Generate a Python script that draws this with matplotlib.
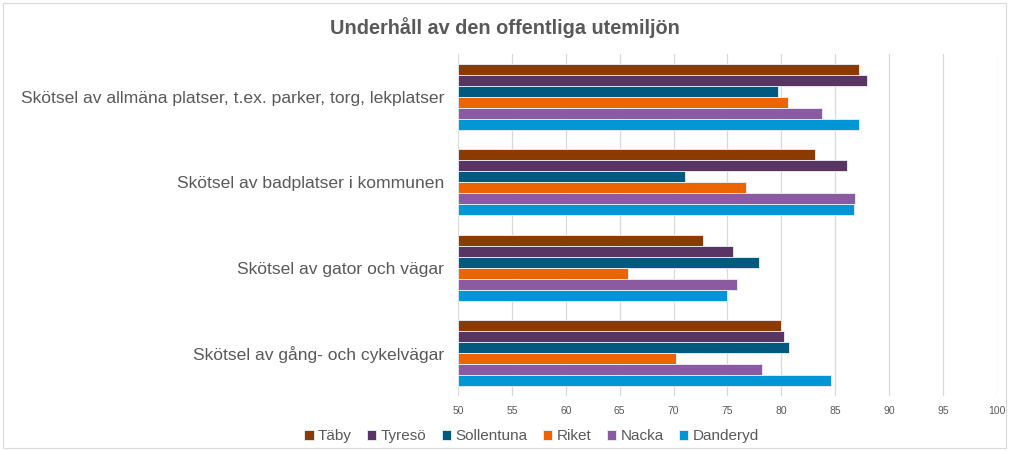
import matplotlib.pyplot as plt
from matplotlib.patches import Rectangle
import numpy as np

plt.rcParams['font.family'] = ['Liberation Sans', 'DejaVu Sans']

categories = [
    "Skötsel av allmäna platser, t.ex. parker, torg, lekplatser",
    "Skötsel av badplatser i kommunen",
    "Skötsel av gator och vägar",
    "Skötsel av gång- och cykelvägar",
]
series_names = ["Täby", "Tyresö", "Sollentuna", "Riket", "Nacka", "Danderyd"]
taby = [87.2, 83.1, 72.7, 80.0]
tyreso = [87.9, 86.1, 75.5, 80.2]
sollentuna = [79.7, 71.1, 77.9, 80.7]
riket = [80.6, 76.7, 65.8, 70.2]
nacka = [83.8, 86.8, 75.9, 78.2]
danderyd = [87.2, 86.7, 75.0, 84.6]
colors = ["#8B3A00", "#583562", "#005A80", "#EB6400", "#8C5AA0", "#0096D6"]

values = [taby, tyreso, sollentuna, riket, nacka, danderyd]

fig = plt.figure(figsize=(10.09, 4.51), dpi=100)
ax = fig.add_axes([0.4539, 0.122, 0.5342, 0.758])

# outer chart frame
fig.patches.append(Rectangle((0.003, 0.006), 0.994, 0.988, transform=fig.transFigure,
                             fill=False, edgecolor="#D9D9D9", linewidth=0.8))

n_cat = len(categories)
n_ser = len(series_names)
bar_h = 0.77 / n_ser
pos = np.arange(n_cat)[::-1]  # first category on top

for i, (name, vals, col) in enumerate(zip(series_names, values, colors)):
    offset = (n_ser - 1) / 2 * bar_h - i * bar_h
    ax.barh(pos + offset, np.array(vals) - 50, left=50, height=bar_h,
            color=col, edgecolor="#EAF2F8", linewidth=0.6, label=name, zorder=3)

ax.set_xlim(50, 100)
ax.set_ylim(-0.5, n_cat - 0.5)
ax.set_xticks(np.arange(50, 101, 5))
ax.tick_params(axis='x', labelsize=7.5, colors="#595959", length=0, pad=7)
ax.set_yticks(pos)
ax.set_yticklabels(categories, fontsize=12.6, color="#595959")
ax.tick_params(axis='y', length=0, pad=10)
ax.grid(axis='x', color="#D9D9D9", linewidth=0.9, zorder=0)
for s in ax.spines.values():
    s.set_visible(False)

fig.text(0.5, 0.938, "Underhåll av den offentliga utemiljön", ha='center', va='center',
         fontsize=14.3, fontweight='bold', color="#595959")

handles, labels = ax.get_legend_handles_labels()
fig.legend(handles, labels, loc='center', bbox_to_anchor=(0.527, 0.033), ncol=6,
           frameon=False, fontsize=11, labelcolor="#595959", handlelength=0.6,
           handleheight=0.6, handletextpad=0.3, columnspacing=1.0)

fig.savefig("out.png", dpi=100)
